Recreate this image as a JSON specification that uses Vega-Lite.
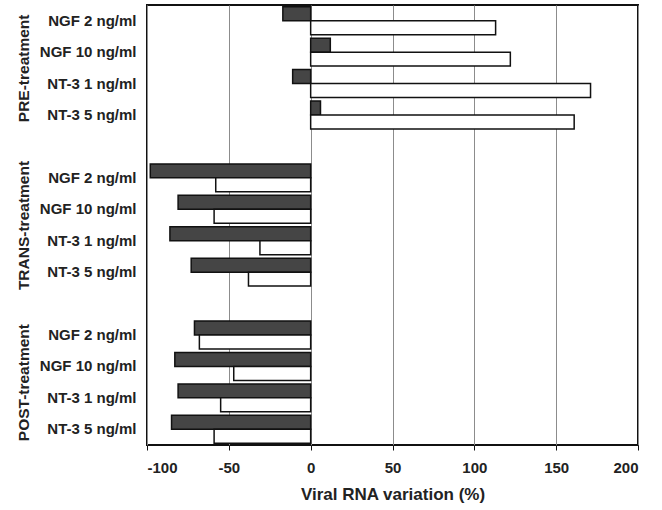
{
  "$schema": "https://vega.github.io/schema/vega-lite/v6.json",
  "width": 491,
  "height": 440,
  "autosize": {"type": "pad"},
  "padding": {"left": 16, "top": 5, "right": 20, "bottom": 5},
  "config": {
    "font": "Liberation Sans",
    "view": {"stroke": "#111111", "strokeWidth": 2}
  },
  "resolve": {"scale": {"y": "independent"}, "axis": {"y": "independent"}},
  "layer": [
    {
      "data": {
        "values": [
          {"row": "PRE|NGF 2 ng/ml", "series": "A", "value": -17},
          {"row": "PRE|NGF 2 ng/ml", "series": "B", "value": 113},
          {"row": "PRE|NGF 10 ng/ml", "series": "A", "value": 12},
          {"row": "PRE|NGF 10 ng/ml", "series": "B", "value": 122},
          {"row": "PRE|NT-3 1 ng/ml", "series": "A", "value": -11},
          {"row": "PRE|NT-3 1 ng/ml", "series": "B", "value": 171},
          {"row": "PRE|NT-3  5 ng/ml", "series": "A", "value": 6},
          {"row": "PRE|NT-3  5 ng/ml", "series": "B", "value": 161},
          {"row": "TRANS|NGF 2 ng/ml", "series": "A", "value": -98},
          {"row": "TRANS|NGF 2 ng/ml", "series": "B", "value": -58},
          {"row": "TRANS|NGF 10 ng/ml", "series": "A", "value": -81},
          {"row": "TRANS|NGF 10 ng/ml", "series": "B", "value": -59},
          {"row": "TRANS|NT-3 1 ng/ml", "series": "A", "value": -86},
          {"row": "TRANS|NT-3 1 ng/ml", "series": "B", "value": -31},
          {"row": "TRANS|NT-3  5 ng/ml", "series": "A", "value": -73},
          {"row": "TRANS|NT-3  5 ng/ml", "series": "B", "value": -38},
          {"row": "POST|NGF 2 ng/ml", "series": "A", "value": -71},
          {"row": "POST|NGF 2 ng/ml", "series": "B", "value": -68},
          {"row": "POST|NGF 10 ng/ml", "series": "A", "value": -83},
          {"row": "POST|NGF 10 ng/ml", "series": "B", "value": -47},
          {"row": "POST|NT-3 1 ng/ml", "series": "A", "value": -81},
          {"row": "POST|NT-3 1 ng/ml", "series": "B", "value": -55},
          {"row": "POST|NT-3  5 ng/ml", "series": "A", "value": -85},
          {"row": "POST|NT-3  5 ng/ml", "series": "B", "value": -59}
        ]
      },
      "mark": {"type": "bar", "stroke": "#111111", "strokeWidth": 1.5},
      "encoding": {
        "y": {
          "field": "row",
          "type": "nominal",
          "scale": {
            "domain": [
              "PRE|NGF 2 ng/ml", "PRE|NGF 10 ng/ml", "PRE|NT-3 1 ng/ml", "PRE|NT-3  5 ng/ml", "gap1",
              "TRANS|NGF 2 ng/ml", "TRANS|NGF 10 ng/ml", "TRANS|NT-3 1 ng/ml", "TRANS|NT-3  5 ng/ml", "gap2",
              "POST|NGF 2 ng/ml", "POST|NGF 10 ng/ml", "POST|NT-3 1 ng/ml", "POST|NT-3  5 ng/ml"
            ],
            "paddingInner": 0.111,
            "paddingOuter": 0.0555
          },
          "axis": {
            "title": null,
            "orient": "left",
            "domain": false,
            "ticks": false,
            "labelPadding": 11,
            "labelFontSize": 15,
            "labelFontWeight": "bold",
            "labelColor": "#222222",
            "labelExpr": "replace(replace(datum.value, /^[A-Z]+[|]/, ''), /^gap[0-9]$/, '')"
          }
        },
        "yOffset": {
          "field": "series",
          "type": "nominal",
          "scale": {"domain": ["A", "B"], "paddingInner": 0, "paddingOuter": 0}
        },
        "x": {
          "field": "value",
          "type": "quantitative",
          "scale": {"domain": [-100, 200], "nice": false},
          "axis": {
            "values": [-100, -50, 0, 50, 100, 150, 200],
            "labelExpr": "'' + datum.value",
            "grid": true,
            "gridColor": "#8c8c8c",
            "gridWidth": 1,
            "domain": false,
            "tickColor": "#111111",
            "tickSize": 5,
            "labelPadding": 10,
            "labelFontSize": 15,
            "labelFontWeight": "bold",
            "labelColor": "#222222",
            "title": "Viral RNA variation (%)",
            "titleFontSize": 17,
            "titleFontWeight": "bold",
            "titleColor": "#222222",
            "titlePadding": 11
          }
        },
        "fill": {
          "field": "series",
          "type": "nominal",
          "scale": {"domain": ["A", "B"], "range": ["#454545", "#ffffff"]},
          "legend": null
        }
      }
    },
    {
      "data": {
        "values": [
          {"group": "PRE-treatment"},
          {"group": "TRANS-treatment"},
          {"group": "POST-treatment"}
        ]
      },
      "mark": {"type": "text", "text": ""},
      "encoding": {
        "y": {
          "field": "group",
          "type": "ordinal",
          "scale": {
            "type": "point",
            "domain": ["PRE-treatment", "TRANS-treatment", "POST-treatment"],
            "padding": 0.4
          },
          "axis": {
            "title": null,
            "orient": "left",
            "offset": 116,
            "domain": false,
            "ticks": false,
            "grid": false,
            "labelPadding": 0,
            "labelAngle": -90,
            "labelAlign": "center",
            "labelBaseline": "bottom",
            "labelFontSize": 15.5,
            "labelFontWeight": "bold",
            "labelColor": "#222222"
          }
        }
      }
    }
  ]
}
